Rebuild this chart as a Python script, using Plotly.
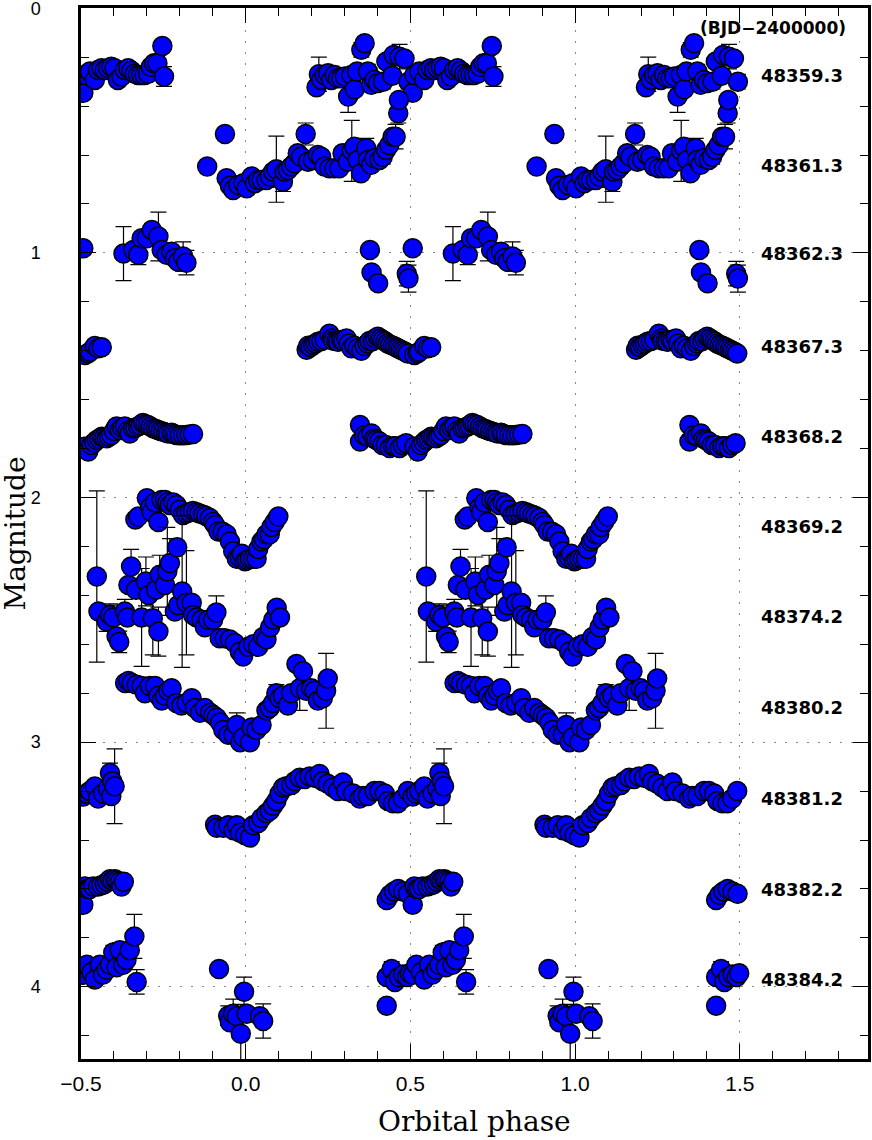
import plotly.graph_objects as go

# ---------------- data (phase in one cycle, magnitude, error) ----------------
night_labels = ["48359.3", "48361.3", "48362.3", "48367.3", "48368.2", "48369.2",
                "48374.2", "48380.2", "48381.2", "48382.2", "48384.2"]
label_mag = [0.273, 0.644, 1.004, 1.384, 1.752, 2.12, 2.488, 2.86, 3.23, 3.603, 3.97]

phase_48359 = [-0.493,-0.488,-0.473,-0.458,-0.448,-0.438,-0.428,-0.418,-0.408,-0.398,-0.388,-0.377,-0.367,-0.357,-0.347,-0.337,-0.327,-0.317,-0.307,-0.296,-0.288,-0.278,-0.268,-0.253,-0.248,
               0.215,0.222,0.230,0.240,0.250,0.260,0.270,0.280,0.290,0.301,0.311,0.321,0.331,0.338,0.351,0.361,0.371,0.381,0.391,0.401,0.417,0.427,0.445,0.449,0.467,0.482,0.494]
mag_48359 = [0.345,0.273,0.259,0.293,0.252,0.245,0.252,0.245,0.239,0.245,0.293,0.279,0.252,0.245,0.255,0.268,0.273,0.273,0.273,0.268,0.239,0.225,0.225,0.154,0.279,
             0.323,0.270,0.293,0.273,0.266,0.293,0.273,0.286,0.286,0.279,0.361,0.273,0.331,0.259,0.170,0.143,0.259,0.313,0.293,0.306,0.300,0.218,0.276,0.191,0.198,0.205,0.300]
err_48359 = [0,0,0,0,0,0,0,0,0,0,0,0,0,0,0,0,0,0,0,0,0,0,0,0,0.04,
             0,0.07,0,0,0,0,0,0,0,0,0.065,0,0,0,0.03,0,0.03,0,0,0,0.03,0,0,0,0.05,0.02,0.03]

phase_48361 = [-0.117,-0.063,-0.058,-0.048,-0.038,-0.022,-0.007,0.003,0.018,0.028,
               0.038,0.048,0.063,0.073,0.083,0.093,0.113,0.118,0.128,0.138,
               0.148,0.158,0.168,0.182,0.189,0.204,0.219,0.229,0.239,0.254,
               0.269,0.284,0.294,0.310,0.322,0.330,0.340,0.350,0.366,0.371,
               0.381,0.391,0.406,0.416,0.426,0.436,0.446,0.455,0.463,0.465]
mag_48361 = [0.647,0.514,0.695,0.726,0.743,0.722,0.715,0.736,0.688,0.715,
             0.702,0.702,0.702,0.688,0.668,0.658,0.709,0.668,0.661,0.647,
             0.634,0.593,0.607,0.514,0.627,0.620,0.600,0.607,0.647,0.654,
             0.654,0.654,0.593,0.627,0.583,0.566,0.620,0.674,0.572,0.620,
             0.640,0.613,0.620,0.607,0.579,0.559,0.525,0.525,0.429,0.375]
err_48361 = [0,0,0,0,0,0,0,0,0,0,
             0,0,0.03,0,0,0.135,0.04,0,0,0,
             0,0,0,0.045,0,0,0,0,0,0,
             0,0,0,0,0.125,0,0,0,0.04,0,
             0,0,0,0.03,0,0,0,0.05,0.04,0]

phase_48362 = [-0.493,-0.371,-0.341,-0.326,-0.316,-0.300,-0.285,-0.265,-0.255,-0.240,
               -0.225,-0.215,-0.205,-0.190,-0.180,0.377,0.382,0.402,0.489,0.494]
mag_48362 = [0.981,1.003,0.988,1.008,0.940,0.940,0.906,0.933,0.988,1.008,
             0.995,1.022,1.036,1.015,1.040,0.988,1.080,1.124,1.085,1.105]
err_48362 = [0,0.11,0,0.04,0,0.03,0,0.1,0,0,
             0,0,0,0.06,0.05,0,0,0,0.05,0.055]

phase_48367 = [-0.488,-0.478,-0.473,-0.458,-0.447,-0.437,
               0.185,0.190,0.197,0.205,0.212,0.220,0.230,0.240,0.254,0.262,
               0.266,0.275,0.281,0.290,0.296,0.306,0.313,0.321,0.330,0.340,
               0.351,0.361,0.370,0.376,0.386,0.393,0.401,0.409,0.416,0.424,
               0.431,0.439,0.447,0.455,0.462,0.470,0.477,0.485,0.492]
mag_48367 = [1.417,1.410,1.404,1.381,1.390,1.386,
             1.396,1.380,1.385,1.377,1.370,1.363,1.360,1.355,1.331,1.350,
             1.359,1.360,1.363,1.356,1.359,1.350,1.370,1.390,1.380,1.390,
             1.400,1.381,1.370,1.360,1.360,1.350,1.343,1.350,1.356,1.362,
             1.370,1.375,1.380,1.385,1.390,1.395,1.400,1.405,1.411]
err_48367 = [0] * len(phase_48367)

phase_48368 = [-0.488,-0.478,-0.468,-0.460,-0.452,-0.444,-0.437,-0.430,-0.422,-0.415,
               -0.408,-0.400,-0.392,-0.382,-0.375,-0.367,-0.358,-0.352,-0.342,-0.335,
               -0.327,-0.320,-0.312,-0.305,-0.297,-0.289,-0.281,-0.273,-0.266,-0.258,
               -0.250,-0.242,-0.235,-0.225,-0.218,-0.210,-0.200,-0.190,-0.180,-0.170,
               -0.160,0.347,0.347,0.360,0.370,0.382,0.390,0.397,0.405,0.415,
               0.425,0.437,0.447,0.455,0.467,0.477,0.487]
mag_48368 = [1.792,1.812,1.785,1.775,1.765,1.760,1.752,1.755,1.758,1.752,
             1.745,1.728,1.710,1.724,1.715,1.710,1.728,1.738,1.717,1.715,
             1.710,1.705,1.695,1.700,1.703,1.710,1.717,1.720,1.724,1.728,
             1.731,1.735,1.738,1.735,1.740,1.744,1.745,1.745,1.744,1.742,
             1.740,1.703,1.771,1.745,1.750,1.738,1.760,1.765,1.770,1.785,
             1.785,1.798,1.790,1.790,1.798,1.785,1.778]
err_48368 = [0] * len(phase_48368)

phase_48369 = [-0.335,-0.326,-0.300,-0.290,-0.285,-0.275,-0.265,-0.255,-0.245,-0.237,
               -0.230,-0.220,-0.210,-0.200,-0.190,-0.180,-0.170,-0.160,-0.149,-0.140,
               -0.129,-0.120,-0.109,-0.099,-0.093,-0.083,-0.070,-0.058,-0.048,-0.038,
               -0.027,-0.018,-0.012,-0.002,0.005,0.013,0.023,0.033,0.038,0.048,
               0.055,0.063,0.073,0.078,0.088,0.099]
mag_48369 = [2.090,2.078,2.003,2.040,2.060,2.020,2.100,2.010,2.010,2.020,
             2.030,2.020,2.030,2.050,2.071,2.065,2.060,2.055,2.060,2.065,
             2.070,2.075,2.084,2.100,2.112,2.139,2.140,2.150,2.180,2.220,
             2.250,2.245,2.230,2.260,2.255,2.250,2.250,2.250,2.210,2.180,
             2.170,2.150,2.150,2.120,2.100,2.078]
err_48369 = [0] * len(phase_48369)

phase_48374 = [-0.452,-0.447,-0.422,-0.412,-0.402,-0.392,-0.384,-0.367,-0.359,-0.356,
               -0.348,-0.333,-0.316,-0.303,-0.295,-0.282,-0.272,-0.265,-0.261,-0.245,
               -0.238,-0.230,-0.215,-0.208,-0.205,-0.193,-0.180,-0.164,-0.160,-0.149,
               -0.134,-0.124,-0.114,-0.099,-0.089,-0.079,-0.064,-0.048,-0.033,-0.018,
               -0.008,0.008,0.023,0.038,0.053,0.063,0.074,0.084,0.094,0.104]
mag_48374 = [2.323,2.466,2.507,2.480,2.490,2.568,2.590,2.466,2.490,2.357,
             2.282,2.377,2.490,2.343,2.398,2.493,2.377,2.548,2.316,2.357,
             2.302,2.268,2.466,2.203,2.440,2.384,2.430,2.430,2.480,2.490,
             2.500,2.530,2.500,2.500,2.470,2.575,2.575,2.580,2.595,2.630,
             2.650,2.610,2.600,2.610,2.570,2.580,2.530,2.500,2.450,2.490]
err_48374 = [0.35,0,0.04,0.045,0.05,0,0.044,0.05,0,0,
             0.07,0,0.2,0.1,0,0.15,0,0.1,0.08,0,
             0.18,0.1,0,0,0,0.31,0.213,0,0,0,
             0,0,0,0,0.068,0,0.03,0,0,0,
             0,0,0,0,0,0,0,0,0,0]

phase_48380 = [-0.366,-0.356,-0.346,-0.331,-0.316,-0.306,-0.291,-0.275,-0.265,-0.255,
               -0.245,-0.235,-0.225,-0.210,-0.195,-0.179,-0.164,-0.154,-0.139,-0.124,
               -0.108,-0.098,-0.088,-0.078,-0.068,-0.053,-0.037,-0.027,-0.017,-0.007,
               0.013,0.018,0.033,0.048,0.063,0.073,0.083,0.093,0.103,0.113,
               0.128,0.138,0.154,0.164,0.174,0.184,0.199,0.209,0.219,0.234,
               0.244,0.249]
mag_48380 = [2.758,2.750,2.758,2.765,2.770,2.800,2.770,2.770,2.810,2.830,
             2.810,2.790,2.780,2.840,2.850,2.840,2.820,2.860,2.880,2.860,
             2.880,2.890,2.900,2.920,2.950,2.970,2.970,2.930,3.000,2.980,
             3.000,2.940,2.950,2.930,2.870,2.860,2.840,2.800,2.820,2.810,
             2.850,2.800,2.680,2.780,2.710,2.790,2.780,2.790,2.830,2.820,
             2.790,2.740]
err_48380 = [0,0,0,0,0,0,0,0,0,0,
             0,0,0,0,0,0,0,0,0,0,
             0,0,0,0,0,0,0,0.05,0,0,
             0,0,0,0,0,0,0,0.035,0,0,
             0,0,0,0.09,0,0,0,0,0,0,
             0.153,0]

phase_48381 = [-0.493,-0.483,-0.473,-0.458,-0.448,-0.433,-0.418,-0.412,-0.408,-0.405,
               -0.398,-0.093,-0.088,-0.068,-0.053,-0.037,-0.027,-0.017,-0.002,0.013,
               0.023,0.038,0.048,0.063,0.073,0.083,0.093,0.103,0.114,0.124,
               0.139,0.149,0.164,0.179,0.194,0.209,0.224,0.234,0.249,0.265,
               0.280,0.295,0.305,0.326,0.346,0.356,0.371,0.391,0.406,0.422,
               0.432,0.447,0.462,0.477,0.492]
mag_48381 = [3.222,3.210,3.200,3.181,3.230,3.210,3.190,3.126,3.220,3.160,
             3.180,3.338,3.350,3.350,3.340,3.360,3.340,3.370,3.380,3.390,
             3.340,3.330,3.310,3.290,3.280,3.260,3.240,3.210,3.185,3.180,
             3.175,3.160,3.145,3.150,3.140,3.145,3.130,3.160,3.170,3.185,
             3.200,3.165,3.200,3.210,3.230,3.220,3.220,3.200,3.200,3.210,
             3.240,3.250,3.250,3.230,3.200]
err_48381 = [0,0,0,0,0,0,0,0.04,0,0,
             0.153,0,0,0,0,0,0,0,0,0,
             0,0,0,0,0,0,0,0,0,0,
             0,0,0,0,0,0,0.02,0,0,0,
             0,0,0,0,0,0,0,0,0,0,
             0,0,0,0,0]

phase_48382 = [-0.493,-0.488,-0.480,-0.473,-0.463,-0.448,-0.438,-0.428,-0.420,-0.412,
               -0.405,-0.397,-0.390,-0.382,-0.377,-0.370,0.428,0.438,0.450,0.463,
               0.478,0.493]
mag_48382 = [3.664,3.590,3.600,3.600,3.590,3.590,3.585,3.580,3.570,3.560,
             3.565,3.560,3.565,3.570,3.590,3.570,3.645,3.624,3.610,3.600,
             3.610,3.620]
err_48382 = [0,0,0,0,0,0.03,0,0,0,0,
             0,0,0,0,0,0,0,0,0,0,
             0,0]

phase_48384 = [-0.493,-0.482,-0.468,-0.458,-0.443,-0.433,-0.422,-0.412,-0.402,-0.392,
               -0.382,-0.372,-0.362,-0.352,-0.338,-0.331,-0.081,-0.053,-0.048,-0.038,
               -0.027,-0.015,-0.005,0.003,0.043,0.053,0.428,0.428,0.443,0.453,
               0.465,0.478,0.490,0.498]
mag_48384 = [3.951,3.910,3.940,3.970,3.910,3.950,3.930,3.910,3.860,3.920,
             3.850,3.910,3.890,3.850,3.794,3.980,3.927,4.118,4.145,4.110,
             4.120,4.192,4.020,4.110,4.120,4.140,4.077,3.960,3.927,3.980,
             3.960,3.950,3.960,3.945]
err_48384 = [0,0,0,0,0,0,0,0,0.03,0,
             0.03,0,0,0,0.09,0.05,0,0.04,0,0.06,
             0,0.12,0.06,0,0,0.07,0,0,0.03,0,
             0,0,0,0]

x_tick_vals = [-0.5, 0.0, 0.5, 1.0, 1.5]
y_tick_vals = [0, 1, 2, 3, 4]

nights = [
    (phase_48359, mag_48359, err_48359),
    (phase_48361, mag_48361, err_48361),
    (phase_48362, mag_48362, err_48362),
    (phase_48367, mag_48367, err_48367),
    (phase_48368, mag_48368, err_48368),
    (phase_48369, mag_48369, err_48369),
    (phase_48374, mag_48374, err_48374),
    (phase_48380, mag_48380, err_48380),
    (phase_48381, mag_48381, err_48381),
    (phase_48382, mag_48382, err_48382),
    (phase_48384, mag_48384, err_48384),
]

fig = go.Figure()
for ph, mg, er in nights:
    xs = list(ph) + [p + 1 for p in ph]
    ys = list(mg) + list(mg)
    es = list(er) + list(er)
    fig.add_trace(go.Scatter(
        x=xs, y=ys, mode="markers",
        marker=dict(size=19, color="#0000FF", line=dict(color="black", width=1.5)),
        error_y=dict(type="data", array=es, visible=True, color="black",
                     thickness=1.2, width=8),
        showlegend=False, hoverinfo="skip",
    ))

# right-hand labels
for lab, ym in zip(night_labels, label_mag):
    fig.add_annotation(x=1.82, y=ym, xref="x", yref="y", text=lab, showarrow=False,
                       xanchor="right", yanchor="middle",
                       font=dict(family="DejaVu Sans", size=18, color="black", weight="bold"))
fig.add_annotation(x=1.828, y=0.08, xref="x", yref="y", text="(BJD\u22122400000)",
                   showarrow=False, xanchor="right", yanchor="middle",
                   font=dict(family="DejaVu Sans", size=17, color="black", weight="bold"))

# axis titles
fig.add_annotation(x=0.5, y=0, xref="paper", yref="paper", yshift=-62, text="Orbital phase",
                   showarrow=False, xanchor="center", yanchor="middle",
                   font=dict(family="DejaVu Serif", size=28, color="black"))
fig.add_annotation(x=0, y=0.5, xref="paper", yref="paper", xshift=-66, text="Magnitude",
                   textangle=-90, showarrow=False, xanchor="center", yanchor="middle",
                   font=dict(family="DejaVu Serif", size=28, color="black"))

fig.update_xaxes(
    range=[-0.5, 1.889], tickvals=x_tick_vals, tickformat=".1f",
    ticks="inside", ticklen=15, tickwidth=1.2, tickcolor="black",
    minor=dict(dtick=0.1, tick0=0, ticks="inside", ticklen=8, tickwidth=1.2, tickcolor="black", showgrid=False),
    showline=True, linewidth=2.5, linecolor="black", mirror="ticks",
    showgrid=True, gridcolor="#888888", gridwidth=1.3, griddash="2px,9px",
    zeroline=False, automargin=False, ticklabeloverflow="allow",
    tickfont=dict(family="Liberation Sans", size=21, color="black"),
    ticklabelstandoff=4,
)
fig.update_yaxes(
    range=[4.295, -0.001], tickvals=y_tick_vals, tickformat="d",
    ticks="inside", ticklen=15, tickwidth=1.2, tickcolor="black",
    minor=dict(dtick=0.2, tick0=0, ticks="inside", ticklen=8, tickwidth=1.2, tickcolor="black", showgrid=False),
    showline=True, linewidth=2.5, linecolor="black", mirror="ticks",
    showgrid=True, gridcolor="#888888", gridwidth=1.3, griddash="2px,9px",
    zeroline=False, automargin=False, ticklabeloverflow="allow",
    tickfont=dict(family="Liberation Sans", size=18, color="black"),
    ticklabelstandoff=34,
)

fig.update_layout(
    width=872, height=1140,
    margin=dict(l=81, r=4, t=8, b=81),
    paper_bgcolor="white", plot_bgcolor="white",
)

fig.write_html("out.html", post_script="document.body.style.margin='0px';",
               config={"displayModeBar": False})
